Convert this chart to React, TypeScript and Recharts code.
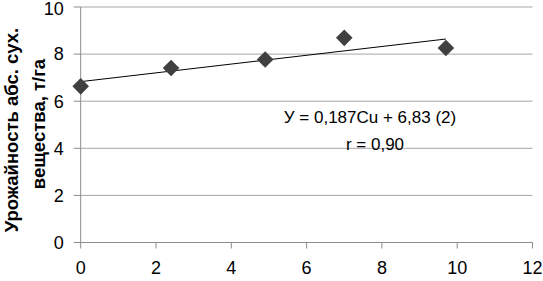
import React from "react";
import {
  ScatterChart,
  Scatter,
  XAxis,
  YAxis,
  CartesianGrid,
} from "recharts";

// Cu dose vs. dry matter yield
const CU_DOSE = [0, 2.4, 4.9, 7.0, 9.7];
const YIELD = [6.63, 7.41, 7.77, 8.69, 8.26];

// trend line endpoints (y = 0.187x + 6.83)
const TREND_X = [0, 9.7];
const TREND_Y = [6.83, 8.64];

const X_TICKS = [0, 2, 4, 6, 8, 10, 12];
const Y_TICKS = [0, 2, 4, 6, 8, 10];

const Y_LABEL = ["Урожайность абс. сух.", "вещества, т/га"];
const EQUATION = ["У = 0,187Cu + 6,83 (2)", "r = 0,90"];

const points = CU_DOSE.map((x, i) => ({ x, y: YIELD[i] }));
const trend = TREND_X.map((x, i) => ({ x, y: TREND_Y[i] }));

const FONT = "'Liberation Sans', Arial, sans-serif";
const GRID = "#a6a6a6";
const AXIS = "#8c8c8c";

const Diamond = (props: any) => {
  const { cx, cy } = props;
  const r = 8.3;
  return (
    <polygon
      points={`${cx},${cy - r} ${cx + r},${cy} ${cx},${cy + r} ${cx - r},${cy}`}
      fill="#404040"
    />
  );
};

const NoDot = () => <g />;

// keeps the top label ("10") inside the picture
const YTick = (props: any) => {
  const { x, y, payload } = props;
  return (
    <text
      x={x}
      y={Math.max(y, 9)}
      dy="0.355em"
      textAnchor="end"
      fontSize={18}
      fontFamily={FONT}
      fill="#000"
    >
      {payload.value}
    </text>
  );
};

export default function App() {
  const tick = { fill: "#000", fontSize: 18, fontFamily: FONT };
  return (
    <div style={{ position: "absolute", left: 0, top: 0, width: 543, height: 281, background: "#fff" }}>
      <ScatterChart
        width={543}
        height={281}
        margin={{ top: 7, right: 10.5, left: 0, bottom: 0 }}
      >
        <CartesianGrid vertical={false} stroke={GRID} />
        <XAxis
          type="number"
          dataKey="x"
          domain={[0, 12]}
          ticks={X_TICKS}
          height={38.5}
          tick={tick}
          tickSize={6}
          tickMargin={13}
          stroke={AXIS}
          interval={0}
        />
        <YAxis
          type="number"
          dataKey="y"
          domain={[0, 10]}
          ticks={Y_TICKS}
          width={80.7}
          tick={<YTick />}
          tickSize={7}
          tickMargin={10}
          stroke={AXIS}
          interval={0}
        />
        <Scatter
          data={trend}
          line={{ stroke: "#000", strokeWidth: 1 }}
          shape={NoDot}
          isAnimationActive={false}
        />
        <Scatter data={points} shape={Diamond} isAnimationActive={false} />
      </ScatterChart>
      <svg
        width={543}
        height={281}
        style={{ position: "absolute", left: 0, top: 0, pointerEvents: "none" }}
      >
        <text
          transform="translate(11,130) rotate(-90)"
          textAnchor="middle"
          dominantBaseline="central"
          fontFamily={FONT}
          fontWeight="bold"
          fontSize={18.5}
          fill="#000"
        >
          {Y_LABEL[0]}
        </text>
        <text
          transform="translate(38,124) rotate(-90)"
          textAnchor="middle"
          dominantBaseline="central"
          fontFamily={FONT}
          fontWeight="bold"
          fontSize={18.5}
          fill="#000"
        >
          {Y_LABEL[1]}
        </text>
        <text x={370} y={117} textAnchor="middle" dominantBaseline="central" fontFamily={FONT} fontSize={17} fill="#000">
          {EQUATION[0]}
        </text>
        <text x={375} y={144} textAnchor="middle" dominantBaseline="central" fontFamily={FONT} fontSize={17} fill="#000">
          {EQUATION[1]}
        </text>
      </svg>
    </div>
  );
}
